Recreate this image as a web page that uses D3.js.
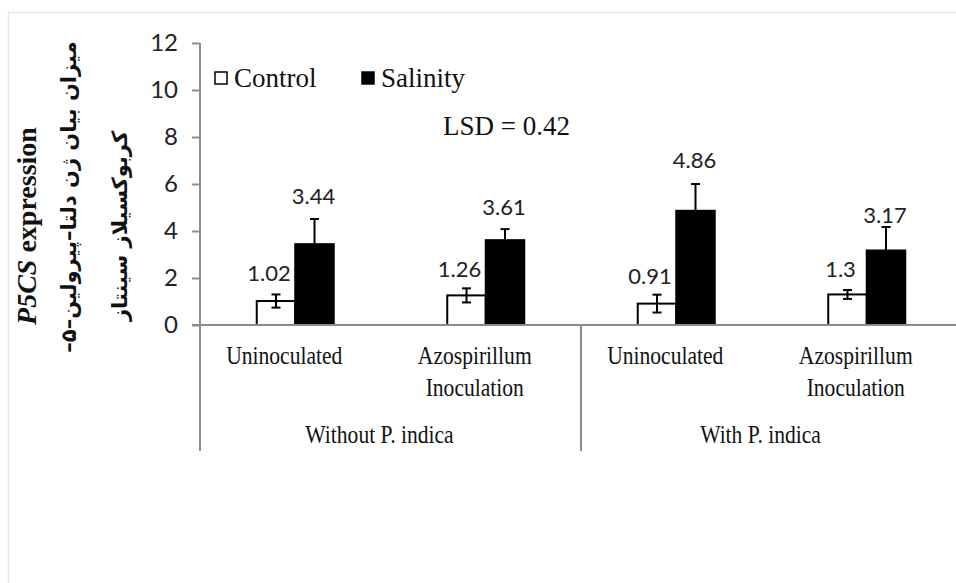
<!DOCTYPE html>
<html>
<head>
<meta charset="utf-8">
<script src="https://cdn.jsdelivr.net/npm/d3@7"></script>
<style>
  html, body { margin: 0; padding: 0; background: #fff; }
  svg { display: block; }
</style>
</head>
<body>
<svg id="chart" width="956" height="583"></svg>
<script>
// P5CS expression under control / salinity, by inoculation and P. indica treatment
const groups = ["Without P. indica", "With P. indica"];
const categories = [
  ["Uninoculated"],
  ["Azospirillum", "Inoculation"],
  ["Uninoculated"],
  ["Azospirillum", "Inoculation"]
];
const categoryGroup = [0, 0, 1, 1];
const series = ["Control", "Salinity"];
const controlValues = [1.02, 1.26, 0.91, 1.3];
const salinityValues = [3.44, 3.61, 4.86, 3.17];
const controlErrors = [0.28, 0.30, 0.38, 0.19];
const salinityErrors = [1.07, 0.47, 1.14, 1.00];
const yTicks = [0, 2, 4, 6, 8, 10, 12];
const lsdText = "LSD = 0.42";

const svg = d3.select("#chart");
const W = 956, H = 583;

const serif = "'Liberation Serif', 'Times New Roman', serif";
const sans = "Lato, 'Noto Sans', sans-serif";
const axisGray = "#8c8c8c";
const condense = 0.83;   // narrow serif look of the axis labels

// outer frame of the chart area
svg.append("rect")
  .attr("x", 8.5).attr("y", 12.5)
  .attr("width", W + 20).attr("height", H + 20)
  .attr("fill", "#fff").attr("stroke", "#e6e6e6").attr("stroke-width", 1.5);

const plot = { left: 200, right: 962, top: 43, bottom: 325 };

const y = d3.scaleLinear().domain([0, 12]).range([plot.bottom, plot.top]);
const x0 = d3.scaleBand().domain(d3.range(categories.length))
  .range([plot.left, plot.right]).paddingInner(0).paddingOuter(0);
const x1 = d3.scaleBand().domain(series)
  .range([0, x0.bandwidth()]).paddingInner(0).paddingOuter(1.474);

const rows = categories.map((c, i) => ({
  i,
  vals: [
    { i, s: "Control", v: controlValues[i], e: controlErrors[i] },
    { i, s: "Salinity", v: salinityValues[i], e: salinityErrors[i] }
  ]
}));

// y axis
const yAxis = d3.axisLeft(y).tickValues(yTicks).tickSize(8).tickPadding(14)
  .tickFormat(d3.format("d"));
const gy = svg.append("g").attr("transform", `translate(${plot.left},0)`).call(yAxis);
gy.select(".domain").remove();
gy.selectAll(".tick line").attr("stroke", axisGray).attr("stroke-width", 2);
gy.selectAll(".tick text")
  .attr("font-family", sans).attr("font-size", 24).attr("fill", "#222");

// bars
const cat = svg.append("g").selectAll("g").data(rows).join("g")
  .attr("transform", d => `translate(${x0(d.i)},0)`);

cat.selectAll("rect").data(d => d.vals).join("rect")
  .attr("x", d => x1(d.s))
  .attr("y", d => y(d.v))
  .attr("width", x1.bandwidth())
  .attr("height", d => y(0) - y(d.v))
  .attr("fill", d => d.s === "Control" ? "#fff" : "#000")
  .attr("stroke", "#000").attr("stroke-width", 2);

// error bars
const cap = 4.5;
const eb = cat.selectAll("g.err").data(d => d.vals).join("g").attr("class", "err")
  .attr("stroke", "#000").attr("stroke-width", 2);
eb.append("line")
  .attr("x1", d => x1(d.s) + x1.bandwidth() / 2)
  .attr("x2", d => x1(d.s) + x1.bandwidth() / 2)
  .attr("y1", d => y(d.v + d.e)).attr("y2", d => y(d.v - d.e));
eb.append("line")
  .attr("x1", d => x1(d.s) + x1.bandwidth() / 2 - cap)
  .attr("x2", d => x1(d.s) + x1.bandwidth() / 2 + cap)
  .attr("y1", d => y(d.v + d.e)).attr("y2", d => y(d.v + d.e));
eb.append("line")
  .attr("x1", d => x1(d.s) + x1.bandwidth() / 2 - cap)
  .attr("x2", d => x1(d.s) + x1.bandwidth() / 2 + cap)
  .attr("y1", d => y(d.v - d.e)).attr("y2", d => y(d.v - d.e));

// value labels above the error bars (gap in px per category: control, salinity)
const labelGap = [[13, 15], [11, 14], [11, 16], [13, 4]];
cat.selectAll("text.val").data(d => d.vals).join("text").attr("class", "val")
  .attr("x", d => x1(d.s) + x1.bandwidth() / 2 + (d.s === "Control" ? -7 : -1))
  .attr("y", d => y(d.v + d.e) - labelGap[d.i][d.s === "Control" ? 0 : 1])
  .attr("text-anchor", "middle")
  .attr("font-family", sans).attr("font-size", 22).attr("fill", "#222")
  .text(d => d.v);

// horizontal axis line
svg.append("line")
  .attr("x1", plot.left - 8).attr("x2", plot.right)
  .attr("y1", plot.bottom).attr("y2", plot.bottom)
  .attr("stroke", axisGray).attr("stroke-width", 2);

// vertical axis and group separators running through the label rows
const sepBottom = 451;
const labelShift = -11;
svg.append("line")
  .attr("x1", plot.left).attr("x2", plot.left)
  .attr("y1", plot.top).attr("y2", sepBottom)
  .attr("stroke", axisGray).attr("stroke-width", 2);
groups.forEach((g, gi) => {
  const idx = categoryGroup.map((c, i) => c === gi ? i : -1).filter(i => i >= 0);
  const xr = x0(idx[idx.length - 1]) + x0.bandwidth();
  svg.append("line")
    .attr("x1", xr).attr("x2", xr)
    .attr("y1", plot.bottom).attr("y2", sepBottom)
    .attr("stroke", axisGray).attr("stroke-width", 2);
  const xc = (x0(idx[0]) + xr) / 2 + labelShift;
  svg.append("g").attr("transform", `translate(${xc},443) scale(${condense},1)`)
    .append("text")
    .attr("text-anchor", "middle")
    .attr("font-family", serif).attr("font-size", 26).attr("fill", "#111")
    .text(g);
});

// category labels
categories.forEach((lines, i) => {
  const xc = x0(i) + x0.bandwidth() / 2 + labelShift;
  const t = svg.append("g").attr("transform", `translate(${xc},364) scale(${condense},1)`)
    .append("text")
    .attr("text-anchor", "middle")
    .attr("font-family", serif).attr("font-size", 26).attr("fill", "#111");
  lines.forEach((ln, k) => {
    t.append("tspan").attr("x", 0)
      .attr("dy", k === 0 ? 0 : 32).text(ln);
  });
});

// legend
const legend = svg.append("g");
const legendX = [215, 362];
series.forEach((s, k) => {
  legend.append("rect")
    .attr("x", legendX[k]).attr("y", 72).attr("width", 12).attr("height", 12)
    .attr("fill", s === "Control" ? "#fff" : "#000")
    .attr("stroke", "#000").attr("stroke-width", 1.5);
  legend.append("text")
    .attr("x", legendX[k] + 19).attr("y", 87)
    .attr("font-family", serif).attr("font-size", 27).attr("fill", "#111")
    .text(s);
});

// LSD note
svg.append("text")
  .attr("x", 443).attr("y", 135)
  .attr("font-family", serif).attr("font-size", 27).attr("fill", "#111")
  .text(lsdText);

// y-axis title (English line plus two Persian lines)
const t1 = svg.append("text")
  .attr("transform", "translate(36,226) rotate(-90)")
  .attr("text-anchor", "middle")
  .attr("font-family", serif).attr("font-size", 28).attr("font-weight", "bold")
  .attr("fill", "#111");
t1.append("tspan").attr("font-style", "italic").text("P5CS");
t1.append("tspan").text(" expression");

svg.append("text")
  .attr("transform", "translate(76,197) rotate(-90)")
  .attr("text-anchor", "middle")
  .attr("font-family", "'DejaVu Sans', sans-serif").attr("font-size", 21).attr("font-weight", "bold")
  .attr("direction", "rtl")
  .attr("fill", "#111")
  .text("میزان بیان ژن دلتا–پیرولین–۵–");

svg.append("text")
  .attr("transform", "translate(127,226) rotate(-90)")
  .attr("text-anchor", "middle")
  .attr("font-family", "'DejaVu Sans', sans-serif").attr("font-size", 21).attr("font-weight", "bold")
  .attr("direction", "rtl")
  .attr("fill", "#111")
  .text("کربوکسیلاز سینتاز");
</script>
</body>
</html>
